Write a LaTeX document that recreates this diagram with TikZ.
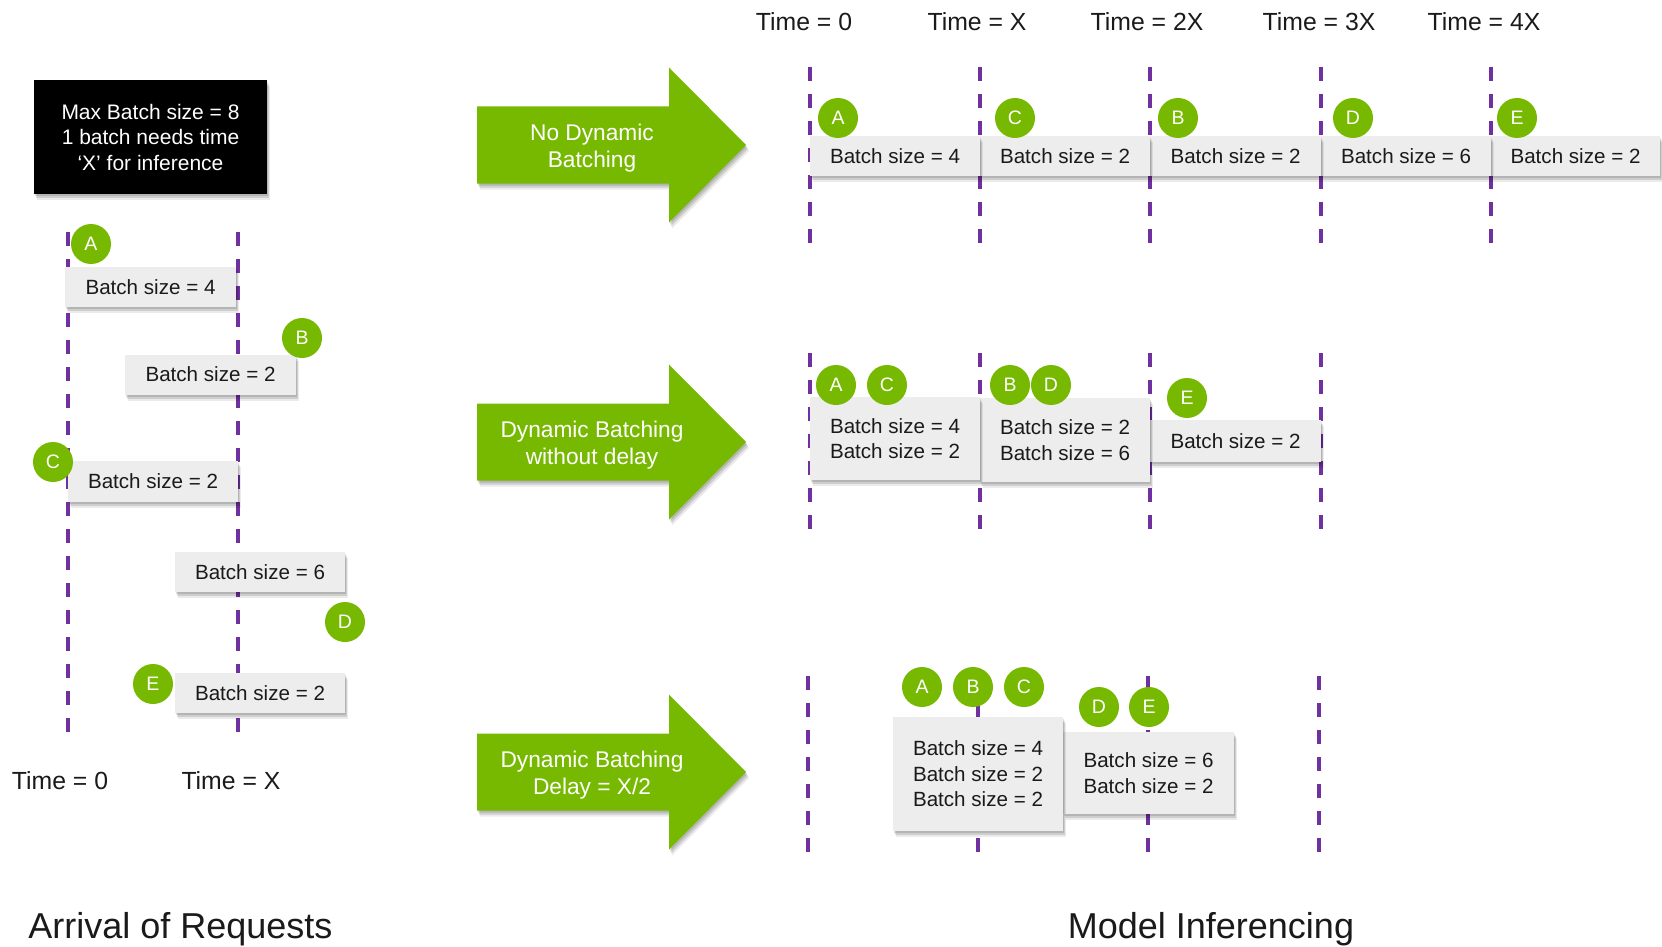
\documentclass[tikz,border=0pt]{standalone}
\usepackage{fontspec}
\setmainfont{Liberation Sans}
\usetikzlibrary{shadows}

\definecolor{nvgreen}{HTML}{76B900}
\definecolor{lanepurple}{HTML}{7030A0}
\definecolor{boxgray}{HTML}{EDEDED}
\definecolor{ink}{HTML}{1A1A1A}

\tikzset{
  lane/.style={draw=lanepurple, line width=4pt, dash pattern=on 14pt off 13pt},
  softshadow/.style={
    general shadow={shadow xshift=1pt, shadow yshift=-2pt, fill=black, opacity=0.12},
    general shadow={shadow xshift=2pt, shadow yshift=-4pt, fill=black, opacity=0.12},
    general shadow={shadow xshift=3pt, shadow yshift=-6pt, fill=black, opacity=0.08}},
  batchbox/.style={fill=boxgray, softshadow, inner sep=0pt, text=ink,
    font=\fontsize{20.6}{25.5}\selectfont, align=center, minimum height=40pt},
  infobox/.style={fill=black, softshadow, inner sep=0pt, text=white,
    font=\fontsize{21}{25.5}\selectfont, align=center},
  req/.style={circle, fill=nvgreen, text=white, minimum size=40pt, inner sep=0pt,
    font=\fontsize{19.5}{19.5}\selectfont},
  timelbl/.style={text=ink, font=\fontsize{24.8}{28}\selectfont, inner sep=0pt, anchor=base},
  titlelbl/.style={text=ink, font=\fontsize{36}{40}\selectfont, inner sep=0pt, anchor=base},
  arrowtxt/.style={text=white, font=\fontsize{22.7}{27}\selectfont, align=center, inner sep=0pt},
}

% big green block arrow with a two-line caption; #1 name, #2 centre height, #3 caption
\newcommand\flowarrow[3]{%
  \fill[nvgreen, softshadow] (477,#2-38.5) -- (669,#2-38.5) -- (669,#2-77.5) -- (746,#2)
    -- (669,#2+77.5) -- (669,#2+38.5) -- (477,#2+38.5) -- cycle;
  \node[arrowtxt] (#1) at (592,#2+3) {#3};
}

\begin{document}
\begin{tikzpicture}[x=1pt, y=-1pt]
\useasboundingbox[fill=white] (0,0) rectangle (1662,947);

% ---------------- arrival of requests ----------------
\node[infobox, minimum width=233pt, minimum height=114pt] (info) at (150.5,137)
  {Max Batch size = 8\\1 batch needs time\\`X' for inference};

\draw[lane] (68,232) -- (68,740);
\draw[lane] (238,232) -- (238,740);

\node[batchbox, minimum width=171pt] (inA) at (150.5,287) {Batch size = 4};
\node[batchbox, minimum width=171pt] (inB) at (210.5,374.5) {Batch size = 2};
\node[batchbox, minimum width=170pt, minimum height=41pt] (inC) at (153,481.5) {Batch size = 2};
\node[batchbox, minimum width=170pt] (inD) at (260,572) {Batch size = 6};
\node[batchbox, minimum width=170pt] (inE) at (260,693) {Batch size = 2};

\node[req] (cA) at (91,244) {A};
\node[req] (cB) at (302,338) {B};
\node[req] (cC) at (53,462) {C};
\node[req] (cD) at (345,622) {D};
\node[req] (cE) at (153,684) {E};

\node[timelbl] (lt0) at (60,789) {Time = 0};
\node[timelbl] (ltX) at (231,789) {Time = X};

\node[titlelbl] (arrival) at (180.5,938) {Arrival of Requests};

% ---------------- arrows ----------------
\flowarrow{arr1}{145}{No Dynamic\\Batching}
\flowarrow{arr2}{442}{Dynamic Batching\\without delay}
\flowarrow{arr3}{772}{Dynamic Batching\\Delay = X/2}

% ---------------- time axis ----------------
\node[timelbl] (t0) at (804,31) {Time = 0};
\node[timelbl] (t1) at (977,31) {Time = X};
\node[timelbl] (t2) at (1147,31) {Time = 2X};
\node[timelbl] (t3) at (1319,31) {Time = 3X};
\node[timelbl] (t4) at (1484,31) {Time = 4X};

% row 1: no dynamic batching
\foreach \x in {810,980,1150,1321,1491} \draw[lane] (\x,67) -- (\x,247);
\node[batchbox, minimum width=169pt] (r1e) at (1575.5,156) {Batch size = 2};
\node[batchbox, minimum width=170pt] (r1d) at (1406,156) {Batch size = 6};
\node[batchbox, minimum width=171pt] (r1b) at (1235.5,156) {Batch size = 2};
\node[batchbox, minimum width=170pt] (r1c) at (1065,156) {Batch size = 2};
\node[batchbox, minimum width=170pt] (r1a) at (895,156) {Batch size = 4};
\node[req] (r1cA) at (838,118) {A};
\node[req] (r1cC) at (1015,118) {C};
\node[req] (r1cB) at (1178,118) {B};
\node[req] (r1cD) at (1353,118) {D};
\node[req] (r1cE) at (1517,118) {E};

% row 2: dynamic batching without delay
\foreach \x in {810,980,1150,1321} \draw[lane] (\x,353) -- (\x,532);
\node[batchbox, minimum width=171pt, minimum height=42pt] (r2e) at (1235.5,441) {Batch size = 2};
\node[batchbox, minimum width=170pt, minimum height=84pt] (r2bd) at (1065,440) {Batch size = 2\\Batch size = 6};
\node[batchbox, minimum width=170pt, minimum height=83pt] (r2ac) at (895,438.5) {Batch size = 4\\Batch size = 2};
\node[req] (r2cA) at (836,385) {A};
\node[req] (r2cC) at (887,385) {C};
\node[req] (r2cB) at (1010,385) {B};
\node[req] (r2cD) at (1051,385) {D};
\node[req] (r2cE) at (1187,398) {E};

% row 3: dynamic batching with delay X/2
\foreach \x in {808,978,1148,1319} \draw[lane] (\x,676) -- (\x,853);
\node[batchbox, minimum width=171pt, minimum height=82pt] (r3de) at (1148.5,773) {Batch size = 6\\Batch size = 2};
\node[batchbox, minimum width=170pt, minimum height=114pt] (r3abc) at (978,774) {Batch size = 4\\Batch size = 2\\Batch size = 2};
\node[req] (r3cA) at (922,687) {A};
\node[req] (r3cB) at (973,687) {B};
\node[req] (r3cC) at (1024,687) {C};
\node[req] (r3cD) at (1099,707) {D};
\node[req] (r3cE) at (1149,707) {E};

\node[titlelbl] (inferencing) at (1211,938) {Model Inferencing};
\end{tikzpicture}
\end{document}
